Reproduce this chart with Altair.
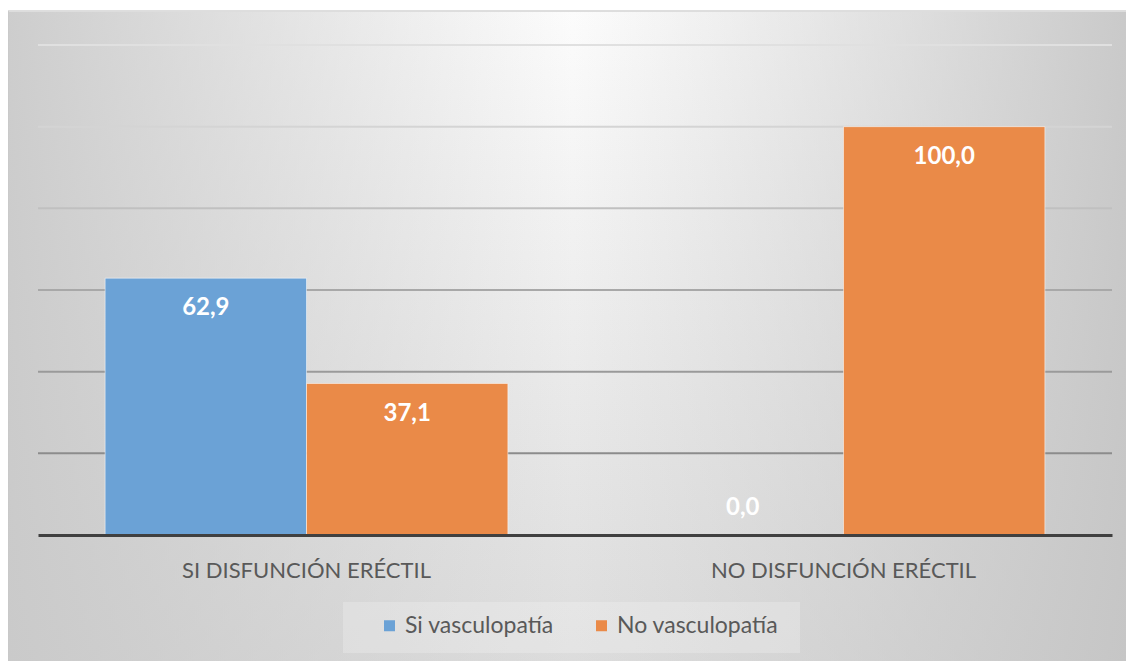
import altair as alt
import pandas as pd

categories = ["SI DISFUNCIÓN ERÉCTIL", "NO DISFUNCIÓN ERÉCTIL"]
series = ["Si vasculopatía", "No vasculopatía"]
si_values = [62.9, 0.0]
no_values = [37.1, 100.0]
grid_values = [20, 40, 60, 80, 100, 120]

rows = []
for i, c in enumerate(categories):
    rows.append({"cat": c, "serie": series[0], "value": si_values[i]})
    rows.append({"cat": c, "serie": series[1], "value": no_values[i]})
df = pd.DataFrame(rows)
grid_df = pd.DataFrame({"v": grid_values})

W, H = 1074, 490
FONT = "Lato"

one = alt.Data(values=[{"k": 1}])

bg_v = alt.Chart(one).mark_rect(
    fill={"gradient": "linear", "x1": 0, "y1": 0, "x2": 0, "y2": 1,
          "stops": [{"offset": 0, "color": "#fcfcfc"},
                    {"offset": 1, "color": "#dcdcdc"}]},
    stroke="#bdbdbd", strokeWidth=1,
).encode(x=alt.value(-30), x2=alt.value(1100), y=alt.value(-34), y2=alt.value(620))

bg_h = alt.Chart(one).mark_rect(
    fill={"gradient": "linear", "x1": 0, "y1": 0, "x2": 1, "y2": 0,
          "stops": [{"offset": 0, "color": "rgba(200,200,200,0.9)"},
                    {"offset": 0.5, "color": "rgba(200,200,200,0)"},
                    {"offset": 1, "color": "rgba(195,195,195,0.9)"}]},
).encode(x=alt.value(-30), x2=alt.value(1100), y=alt.value(-33), y2=alt.value(620))

legend_box = alt.Chart(one).mark_rect(fill="#ffffff", opacity=0.22).encode(
    x=alt.value(305), x2=alt.value(762), y=alt.value(557), y2=alt.value(608)
)

y_scale = alt.Scale(domain=[0, 120])

grid = alt.Chart(grid_df).transform_calculate(
    col="datum.v >= 120 ? '#e0e0e0' : datum.v >= 100 ? '#d4d4d4' : datum.v >= 80 ? '#c0c0c0' : datum.v >= 60 ? '#a8a8a8' : datum.v >= 40 ? '#9a9a9a' : '#8c8c8c'"
).mark_rule(strokeWidth=2).encode(
    y=alt.Y("v:Q", scale=y_scale, axis=None),
    x=alt.value(0), x2=alt.value("width"),
    color=alt.Color("col:N", scale=None),
)

x_enc = alt.X("cat:N", sort=categories,
              scale=alt.Scale(paddingInner=0.25, paddingOuter=0.125),
              axis=alt.Axis(title=None, labelAngle=0, ticks=False, grid=False,
                            domainColor="#404040", domainWidth=3,
                            labelFont=FONT, labelFontSize=22, labelColor="#595959",
                            labelLimit=0, labelPadding=25, zindex=1))
xo_enc = alt.XOffset("serie:N", sort=series, scale=alt.Scale(paddingInner=0))

bars = alt.Chart(df).mark_bar(stroke="#ffffff", strokeOpacity=0.5, strokeWidth=1).encode(
    x=x_enc,
    xOffset=xo_enc,
    y=alt.Y("value:Q", scale=y_scale, axis=None),
    color=alt.Color("serie:N", sort=series,
                    scale=alt.Scale(domain=series, range=["#6ba2d6", "#ea8a48"]),
                    legend=alt.Legend(orient="none", legendX=340, legendY=569,
                                      direction="horizontal", columns=2, title=None,
                                      symbolType="square", symbolSize=121,
                                      symbolStrokeWidth=0,
                                      labelFont=FONT, labelFontSize=23,
                                      labelColor="#595959", labelLimit=0,
                                      columnPadding=36, labelOffset=4, padding=0)),
)

label_expr = "replace(format(datum.value, '.1f'), '.', ',')"
text_props = dict(color="white", font=FONT, fontWeight="bold", fontSize=24,
                  baseline="middle")

labels_in = alt.Chart(df).transform_filter("datum.value > 0").transform_calculate(
    label=label_expr
).mark_text(dy=30, **text_props).encode(
    x=alt.X("cat:N", sort=categories),
    xOffset=xo_enc,
    y=alt.Y("value:Q", scale=y_scale),
    text="label:N",
)

labels_zero = alt.Chart(df).transform_filter("datum.value <= 0").transform_calculate(
    label=label_expr
).mark_text(dy=-27, **text_props).encode(
    x=alt.X("cat:N", sort=categories),
    xOffset=xo_enc,
    y=alt.Y("value:Q", scale=y_scale),
    text="label:N",
)

chart = alt.layer(bg_v, bg_h, legend_box, grid, bars, labels_in, labels_zero).properties(
    width=W, height=H,
    padding={"left": 30, "top": 37, "right": 14, "bottom": 126},
    autosize=alt.AutoSizeParams(type="none"),
).configure_view(stroke=None).configure(background="#ffffff", font=FONT)

chart.save("out.html", embed_options={"renderer": "svg", "actions": False})
